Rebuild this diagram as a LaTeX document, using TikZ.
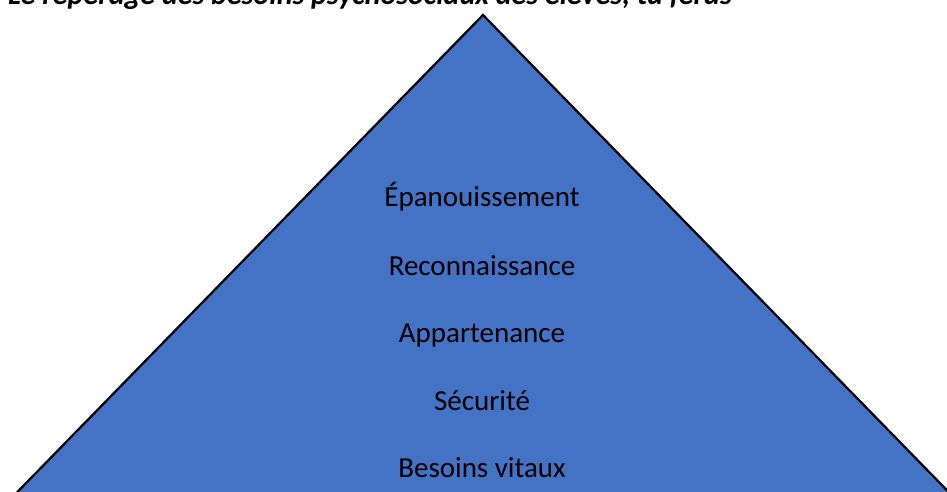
\documentclass[tikz,border=0pt]{standalone}
\usepackage{fontspec}
\setmainfont{Carlito}
\definecolor{pyrblue}{HTML}{4472C4}
\tikzset{
  level/.style={font=\fontsize{29}{34}\selectfont, text=black, anchor=base},
  pyramid/.style={fill=pyrblue, draw=black, line width=2.2pt, line join=miter}
}
\begin{document}
\begin{tikzpicture}[x=1pt,y=-1pt]
\useasboundingbox (0,0) rectangle (947,492);
\clip (0,0) rectangle (947,492);
\coordinate (apex) at (483,15);
\coordinate (bl) at (-10,520);
\coordinate (br) at (976,520);
\draw[pyramid] (apex) -- (bl) -- (br) -- cycle;
\node[anchor=base west, inner sep=0pt, font=\bfseries\itshape\fontsize{30}{34}\selectfont] (title) at (8,5) {Le repérage des besoins psychosociaux des élèves, tu feras};
\node[level] (l5) at (482,206) {Épanouissement};
\node[level] (l4) at (482,275) {Reconnaissance};
\node[level] (l3) at (482,342) {Appartenance};
\node[level] (l2) at (482,410) {Sécurité};
\node[level] (l1) at (482,477) {Besoins vitaux};
\end{tikzpicture}
\end{document}
